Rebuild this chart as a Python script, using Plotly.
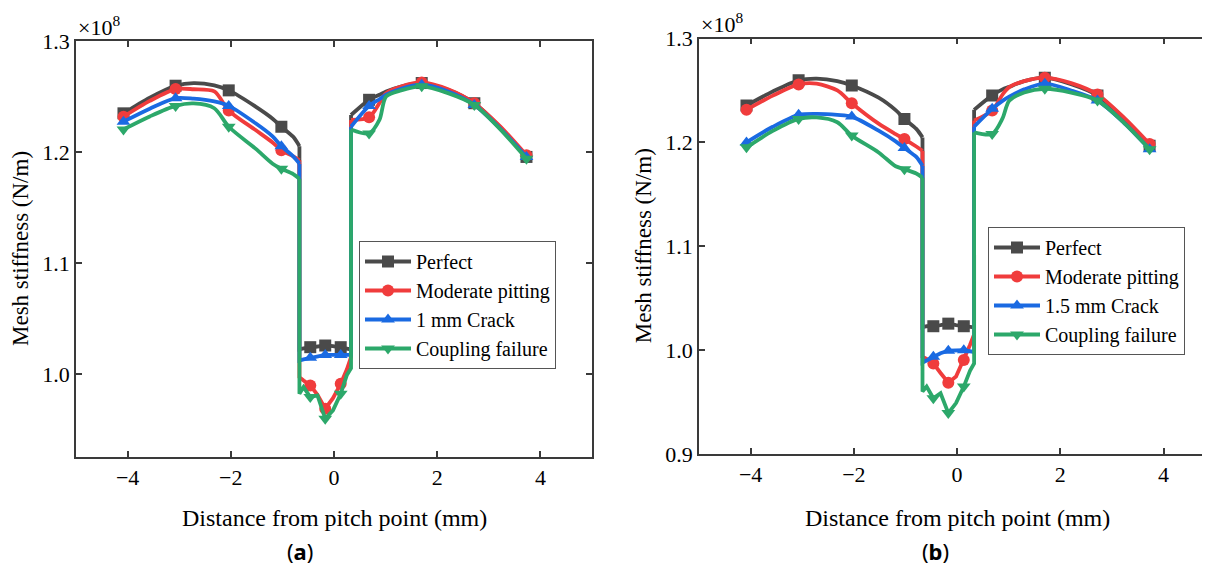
import plotly.graph_objects as go

# Mesh stiffness vs distance from pitch point, two panels (a) and (b)
FONT = "Liberation Serif, Times New Roman, serif"

NAMES_A = ["Perfect", "Moderate pitting", "1 mm Crack", "Coupling failure"]
NAMES_B = ["Perfect", "Moderate pitting", "1.5 mm Crack", "Coupling failure"]
COLORS = ["#4a4a4a", "#f03c3c", "#1a6ae2", "#2ca86a"]
SYMBOLS = ["square", "circle", "triangle-up", "triangle-down"]

# x positions (mm) where the markers sit
MARK_X = [-4.08, -3.07, -2.04, -1.02, -0.46, -0.17, 0.13, 0.68, 1.70, 2.72, 3.73]

# x grids for the three pieces of each curve (single-pair zone in the middle)
X_LEFT = [-4.08, -3.57, -3.07, -2.72, -2.32, -2.04, -1.52, -1.19, -1.02, -0.79, -0.67]
X_MID = [-0.67, -0.59, -0.46, -0.32, -0.17, -0.02, 0.13, 0.25, 0.33]
X_RIGHT = [0.33, 0.68, 0.88, 1.01, 1.30, 1.70, 2.21, 2.72, 3.21, 3.73]

# panel (a), values x1e8 N/m
A_LEFT = [
    [1.2348, 1.2490, 1.2597, 1.2621, 1.2600, 1.2555, 1.2409, 1.2300, 1.2227, 1.2136, 1.2052],
    [1.2318, 1.2460, 1.2567, 1.2565, 1.2545, 1.2373, 1.2197, 1.2085, 1.2015, 1.1960, 1.1924],
    [1.2273, 1.2390, 1.2485, 1.2480, 1.2455, 1.2415, 1.2258, 1.2140, 1.2052, 1.1960, 1.1894],
    [1.2203, 1.2320, 1.2415, 1.2437, 1.2394, 1.2227, 1.2030, 1.1894, 1.1848, 1.1800, 1.1758],
]
A_MID = [
    [1.022, 1.023, 1.024, 1.025, 1.0255, 1.025, 1.024, 1.023, 1.022],
    [0.997, 0.994, 0.9895, 0.981, 0.9685, 0.978, 0.991, 1.004, 1.015],
    [1.012, 1.013, 1.0145, 1.016, 1.017, 1.017, 1.017, 1.017, 1.017],
    [0.982, 0.988, 0.979, 0.9805, 0.9595, 0.967, 0.982, 0.999, 1.005],
]
A_RIGHT = [
    [1.2333, 1.2470, 1.2515, 1.2545, 1.2590, 1.2621, 1.2560, 1.2439, 1.2227, 1.1955],
    [1.2288, 1.2312, 1.2440, 1.2530, 1.2590, 1.2627, 1.2565, 1.2439, 1.2235, 1.1970],
    [1.2227, 1.2415, 1.2475, 1.2515, 1.2570, 1.2606, 1.2545, 1.2424, 1.2215, 1.1955],
    [1.2203, 1.2167, 1.2288, 1.2500, 1.2555, 1.2591, 1.2530, 1.2424, 1.2210, 1.1939],
]

# panel (b)
B_LEFT = [
    [1.2355, 1.2490, 1.2597, 1.2613, 1.2590, 1.2548, 1.2430, 1.2310, 1.2226, 1.2130, 1.2048],
    [1.2313, 1.2450, 1.2558, 1.2565, 1.2500, 1.2377, 1.2180, 1.2080, 1.2032, 1.1960, 1.1919],
    [1.2000, 1.2150, 1.2265, 1.2275, 1.2265, 1.2248, 1.2113, 1.2010, 1.1945, 1.1860, 1.1774],
    [1.1952, 1.2110, 1.2226, 1.2240, 1.2194, 1.2065, 1.1903, 1.1770, 1.1742, 1.1700, 1.1661],
]
B_MID = [
    [1.022, 1.023, 1.023, 1.024, 1.0255, 1.024, 1.023, 1.022, 1.022],
    [0.9936, 0.9915, 0.9872, 0.978, 0.9687, 0.9745, 0.9904, 1.005, 1.015],
    [0.9879, 0.990, 0.9936, 0.997, 0.9994, 0.9997, 1.0, 0.999, 0.998],
    [0.9601, 0.9649, 0.9537, 0.9585, 0.9394, 0.949, 0.9649, 0.980, 0.9872],
]
B_RIGHT = [
    [1.2313, 1.2452, 1.2510, 1.2535, 1.2590, 1.2623, 1.2560, 1.2452, 1.2240, 1.1968],
    [1.2210, 1.2306, 1.2460, 1.2532, 1.2590, 1.2623, 1.2570, 1.2461, 1.2250, 1.1984],
    [1.2152, 1.2323, 1.2400, 1.2440, 1.2510, 1.2565, 1.2500, 1.2403, 1.2200, 1.1935],
    [1.2097, 1.2081, 1.2230, 1.2400, 1.2480, 1.2516, 1.2480, 1.2403, 1.2200, 1.1935],
]

# the page body keeps an 8px margin, so the figure is a bit smaller than the window
OFF = 8
W, H = 1210 - OFF, 569 - OFF
MSIZE = 12
LW = 3.8


def px(x):
    return (x - OFF) / W


def py(y):
    return 1 - (y - OFF) / H


def sizes(xs):
    return [MSIZE if x in MARK_X else 0 for x in xs]


def mk(i, size):
    return dict(symbol=SYMBOLS[i], color=COLORS[i], size=size, opacity=1,
                line=dict(width=0))


def add_panel(fig, names, left, mid, right, xa, ya, legend):
    for i, name in enumerate(names):
        grp = legend + name
        # smooth arcs on both sides (gap in between)
        fig.add_trace(go.Scatter(
            x=X_LEFT + [None] + X_RIGHT, y=left[i] + [None] + right[i],
            mode="lines+markers", showlegend=False,
            line=dict(color=COLORS[i], width=LW, shape="spline", smoothing=0.8),
            marker=mk(i, sizes(X_LEFT) + [0] + sizes(X_RIGHT)),
            connectgaps=False, xaxis=xa, yaxis=ya, legendgroup=grp,
        ))
        # drop into the single-tooth zone and back up
        fig.add_trace(go.Scatter(
            x=[X_LEFT[-1]] + X_MID + [X_RIGHT[0]],
            y=[left[i][-1]] + mid[i] + [right[i][0]],
            mode="lines+markers", showlegend=False,
            line=dict(color=COLORS[i], width=LW),
            marker=mk(i, [0] + sizes(X_MID) + [0]),
            xaxis=xa, yaxis=ya, legendgroup=grp,
        ))
        # legend entry only
        fig.add_trace(go.Scatter(
            x=[None], y=[None], mode="lines+markers", name=name,
            line=dict(color=COLORS[i], width=LW),
            marker=mk(i, MSIZE),
            xaxis=xa, yaxis=ya, legend=legend, legendgroup=grp,
        ))


fig = go.Figure()
add_panel(fig, NAMES_A, A_LEFT, A_MID, A_RIGHT, "x", "y", "legend")
add_panel(fig, NAMES_B, B_LEFT, B_MID, B_RIGHT, "x2", "y2", "legend2")

axis_style = dict(
    showline=True, linecolor="#3a3a3a", linewidth=1.6, mirror="ticks",
    ticks="inside", ticklen=6, tickwidth=1.5, tickcolor="#3a3a3a",
    showgrid=False, zeroline=False, automargin=False,
    tickfont=dict(family=FONT, size=22, color="black"),
)

# plot areas in window pixels (left, right, top, bottom)
A_BOX = (76, 592, 41, 457)
B_BOX = (699, 1210, 38.5, 454)


def xdom(b):
    return [px(b[0]), min(1.0, px(b[1]))]


def ydom(b):
    return [py(b[3]), py(b[2])]


legend_style = dict(
    font=dict(family=FONT, size=20, color="black"),
    bgcolor="white", bordercolor="#555555", borderwidth=1,
    xanchor="left", yanchor="top", tracegroupgap=0, itemwidth=46,
)

fig.update_layout(
    template="none",
    width=W, height=H,
    margin=dict(l=0, r=0, t=0, b=0, autoexpand=False),
    paper_bgcolor="white", plot_bgcolor="white",
    xaxis=dict(domain=xdom(A_BOX), range=[-5, 5], tickvals=[-4, -2, 0, 2, 4],
               anchor="y", **axis_style),
    yaxis=dict(domain=ydom(A_BOX), range=[0.925, 1.3],
               tickvals=[1.0, 1.1, 1.2, 1.3], tickformat=".1f",
               anchor="x", **axis_style),
    xaxis2=dict(domain=xdom(B_BOX), range=[-5, 4.9], tickvals=[-4, -2, 0, 2, 4],
                anchor="y2", **axis_style),
    yaxis2=dict(domain=ydom(B_BOX), range=[0.9, 1.3],
                tickvals=[0.9, 1.0, 1.1, 1.2, 1.3], tickformat=".1f",
                anchor="x2", **axis_style),
    legend=dict(x=px(359), y=py(241), **legend_style),
    legend2=dict(x=px(988), y=py(227), **legend_style),
)

ann = []
for box, xt, cap, cx in [(A_BOX, 20, "(<b>a</b>)", 300), (B_BOX, 643, "(<b>b</b>)", 935)]:
    ann.append(dict(x=px(box[0]), y=py(box[2] - 15), xref="paper", yref="paper",
                    text="×10<sup>8</sup>", showarrow=False, xanchor="left", yanchor="middle",
                    font=dict(family=FONT, size=22, color="black")))
    ann.append(dict(x=px(xt), y=py((box[2] + box[3]) / 2), xref="paper", yref="paper",
                    text="Mesh stiffness (N/m)", textangle=-90, showarrow=False,
                    xanchor="center", yanchor="middle",
                    font=dict(family=FONT, size=23, color="black")))
    ann.append(dict(x=px(box[0] + 258), y=py(518), xref="paper", yref="paper",
                    text="Distance from pitch point (mm)", showarrow=False,
                    xanchor="center", yanchor="middle",
                    font=dict(family=FONT, size=24, color="black")))
    ann.append(dict(x=px(cx), y=py(551), xref="paper", yref="paper",
                    text=cap, showarrow=False, xanchor="center", yanchor="middle",
                    font=dict(family="Noto Sans, sans-serif", size=22, color="black")))
fig.update_layout(annotations=ann)

fig.write_html("out.html")
